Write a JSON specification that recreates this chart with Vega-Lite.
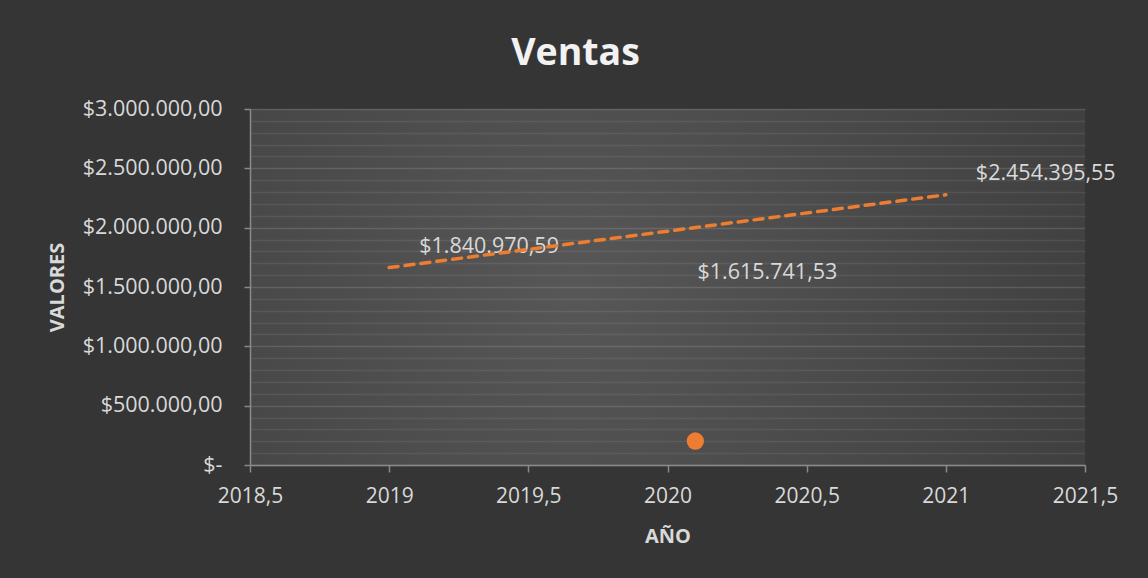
{
  "$schema": "https://vega.github.io/schema/vega-lite/v6.json",
  "width": 835,
  "height": 356,
  "autosize": {"type": "none"},
  "padding": {"left": 250, "top": 109, "right": 63, "bottom": 113},
  "background": "#353535",
  "config": {
    "locale": {"number": {"decimal": ",", "thousands": ".", "grouping": [3], "currency": ["$", ""]}},
    "font": "Open Sans",
    "view": {
      "stroke": null,
      "fill": {"gradient": "radial", "x1": 0.39, "y1": 0.5, "r1": 0, "x2": 0.39, "y2": 0.5, "r2": 0.8,
        "stops": [{"offset": 0, "color": "#575757"}, {"offset": 1, "color": "#3a3a3a"}]}
    }
  },
  "title": {"text": "Ventas", "fontSize": 37.5, "fontWeight": "bold", "color": "#f2f2f2", "font": "Open Sans", "anchor": "middle", "frame": "group", "dx": -92, "offset": 26},
  "datasets": {
    "ventas": [
      {"anio": 2019, "valor": 1840970.59},
      {"anio": 2020, "valor": 1615741.53},
      {"anio": 2021, "valor": 2454395.55}
    ],
    "punto": [
      {"anio": 2020.1, "valor": 202000}
    ]
  },
  "encoding": {
    "x": {
      "field": "anio", "type": "quantitative",
      "scale": {"domain": [2018.5, 2021.5], "nice": false, "zero": false},
      "axis": {
        "values": [2018.5, 2019, 2019.5, 2020, 2020.5, 2021, 2021.5],
        "format": ".1~f",
        "title": "AÑO", "titleFontSize": 20, "titleFontWeight": "bold", "titleColor": "#d9d9d9", "titleFont": "Open Sans", "titlePadding": 20,
        "labelFontSize": 21, "labelColor": "#d9d9d9", "labelFont": "Open Sans", "labelPadding": 13, "labelFlush": false, "labelOverlap": false,
        "tickSize": 7, "tickColor": "#8a8a8a", "tickWidth": 1.5,
        "domainColor": "#8a8a8a", "domainWidth": 1.5,
        "grid": false
      }
    },
    "y": {
      "field": "valor", "type": "quantitative",
      "scale": {"domain": [0, 3000000], "nice": false},
      "axis": {
        "values": [0, 100000, 200000, 300000, 400000, 500000, 600000, 700000, 800000, 900000, 1000000, 1100000, 1200000, 1300000, 1400000, 1500000, 1600000, 1700000, 1800000, 1900000, 2000000, 2100000, 2200000, 2300000, 2400000, 2500000, 2600000, 2700000, 2800000, 2900000, 3000000],
        "labelExpr": "datum.value === 0 ? '$-' : (datum.value % 500000 === 0 ? format(datum.value, '$,.2f') : '')",
        "title": "VALORES", "titleFontSize": 20, "titleFontWeight": "bold", "titleColor": "#d9d9d9", "titleFont": "Open Sans", "titlePadding": 15,
        "labelFontSize": 21.5, "labelColor": "#d9d9d9", "labelFont": "Open Sans", "labelPadding": 22, "labelOverlap": false,
        "tickSize": 6, "tickColor": "#8a8a8a", "tickWidth": 1.5,
        "tickOpacity": {"condition": {"test": "datum.value % 500000 === 0", "value": 1}, "value": 0},
        "domainColor": "#8a8a8a", "domainWidth": 1.5,
        "grid": true, "gridColor": "#ffffff", "gridWidth": 1.5,
        "gridOpacity": {"condition": {"test": "datum.value % 500000 === 0", "value": 0.13}, "value": 0.08}
      }
    }
  },
  "layer": [
    {
      "data": {"name": "ventas"},
      "mark": {"type": "text", "align": "left", "baseline": "middle", "dx": 30, "fontSize": 21.5, "color": "#d9d9d9", "font": "Open Sans"},
      "encoding": {"text": {"field": "valor", "type": "quantitative", "format": "$,.2f"}}
    },
    {
      "data": {"name": "ventas"},
      "transform": [{"regression": "valor", "on": "anio", "extent": [2019, 2021]}],
      "mark": {"type": "line", "color": "#ED7D31", "strokeWidth": 3.5, "strokeDash": [9, 7], "strokeCap": "round"},
      "encoding": {}
    },
    {
      "data": {"name": "punto"},
      "mark": {"type": "circle", "size": 300, "color": "#ED7D31", "opacity": 1},
      "encoding": {}
    }
  ]
}
